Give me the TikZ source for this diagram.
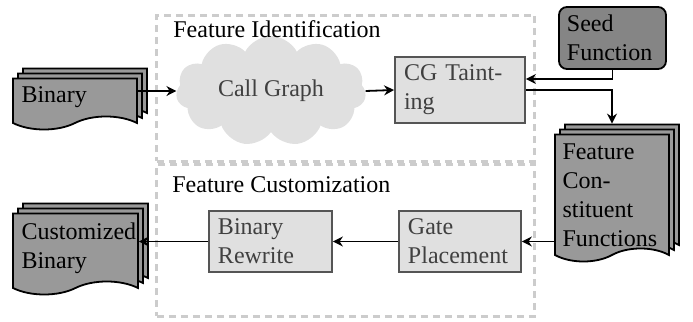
\documentclass[tikz,border=0pt]{standalone}
\usepackage{fontspec}
\setmainfont{Liberation Serif}
\usetikzlibrary{shapes.symbols,shadows,arrows.meta}
\definecolor{dashgray}{HTML}{CCCCCC}
\definecolor{boxfill}{HTML}{E0E0E0}
\definecolor{boxtext}{HTML}{404040}
\definecolor{boxline}{HTML}{555555}
\definecolor{docfill}{HTML}{999999}
\definecolor{seedfill}{HTML}{858585}
\begin{document}
\begin{tikzpicture}[x=0.5pt,y=-0.5pt, font=\fontsize{12}{14.5}\selectfont,
  stage/.style={draw=dashgray, line width=1.5pt, dash pattern=on 3.5pt off 2.5pt, inner sep=0pt},
  stagelbl/.style={anchor=base west, inner sep=0pt, text=black},
  proc/.style={draw=boxline, fill=boxfill, text=boxtext, line width=0.9pt, align=left, inner xsep=4.5pt, inner ysep=0pt},
  doc/.style={tape, tape bend top=none, tape bend bottom=in and out, tape bend height=6.5pt, draw=black, fill=docfill, line width=0.9pt, inner sep=0pt, double copy shadow={shadow xshift=2.5pt, shadow yshift=2.5pt}},
  doctext/.style={anchor=north west, inner sep=0pt, align=left, text=black},
  seedbox/.style={draw=black, fill=seedfill, rounded corners=4pt, line width=0.9pt, align=left, inner xsep=4pt, inner ysep=0pt},
  flow/.style={-{Stealth[length=5pt,width=5pt]}, line width=0.9pt},
]
\useasboundingbox (0,0) rectangle (693,322);

% stage frames
\node[stage, minimum width=189pt, minimum height=73pt] (ident) at (346,88) {};
\node[stage, minimum width=189pt, minimum height=76pt] (cust) at (346,240) {};

% documents
\node[doc, minimum width=62pt, minimum height=25.5pt] (bin) at (75,97.5) {};
\node[doctext] (bintxt) at ([xshift=4.5pt,yshift=-4.5pt]bin.north west) {Binary};
\node[doc, minimum width=57pt, minimum height=63.5pt] (fcf) at (612,191.5) {};
\node[doctext] (fcftxt) at ([xshift=4pt,yshift=-5pt]fcf.north west) {Feature\\Con-\\stituent\\Functions};
\node[doc, minimum width=62.5pt, minimum height=40.5pt] (cb) at (75.5,247.5) {};
\node[doctext] (cbtxt) at ([xshift=4.5pt,yshift=-5pt]cb.north west) {Customized\\Binary};

% seed
\node[seedbox, minimum height=31pt, text width=45.5pt] (seed) at (612.5,38) {Seed\\Function};

% call graph cloud
\node[cloud, cloud puffs=11, cloud puff arc=125, aspect=1.8, fill=boxfill, text=boxtext, minimum width=95pt, minimum height=55pt, inner sep=0pt] (cg) at (271,91) {Call Graph};

% stage labels (over the cloud)
\node[stagelbl] (identlbl) at (173,37) {Feature Identification};
\node[stagelbl] (custlbl) at (172,192) {Feature Customization};

% process boxes
\node[proc, minimum height=33pt, text width=56pt] (cgt) at (460,90) {CG Taint-\\ing};
\node[proc, minimum height=30.5pt, text width=52pt] (gp) at (460,241.5) {Gate\\Placement};
\node[proc, minimum height=30.5pt, text width=52.5pt] (br) at (270.5,241.5) {Binary\\Rewrite};

% connectors
\draw[flow] (bin.east |- cg.west) -- (cg.west);
\draw[flow] (cg.east) -- (cgt.west);
\draw[flow] (seed.south) |- ([yshift=5.5pt]cgt.east);
\draw[flow] (cgt.east) -| ([yshift=5pt]fcf.north);
\draw[flow] (fcf.west |- gp.east) -- (gp.east);
\draw[flow] (gp.west) -- (br.east);
\draw[flow] (br.west) -- (cb.east |- br.west);
\end{tikzpicture}
\end{document}
